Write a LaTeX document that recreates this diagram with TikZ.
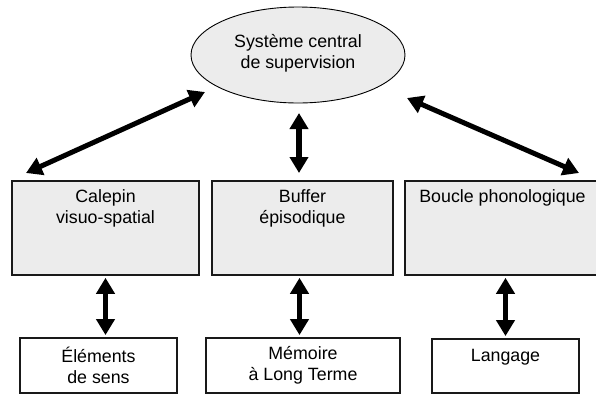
\documentclass[tikz,border=0pt]{standalone}
\usepackage{fontspec}
\setmainfont{Liberation Sans}
\usetikzlibrary{arrows.meta,shapes.geometric}
\definecolor{boxgray}{HTML}{ECECEC}
\begin{document}
\begin{tikzpicture}[x=1pt,y=-1pt,
  txt/.style={font=\fontsize{17.8}{21}\selectfont, align=center, inner sep=0pt},
  topbox/.style={draw=black!90, line width=1.6pt, fill=boxgray, inner sep=0pt, minimum height=94pt},
  lowbox/.style={draw=black!90, line width=1.8pt, fill=white, inner sep=0pt},
  dbl/.style={{Triangle[length=16pt,width=18pt]}-{Triangle[length=16pt,width=18pt]}, line width=5.5pt}
]
\useasboundingbox (0,0) rectangle (596,394);
% ellipse
\node[draw, line width=0.9pt, fill=boxgray, ellipse, minimum width=214pt, minimum height=96pt, inner sep=0pt] (sys) at (298,55) {};
\node[txt] (systxt) at (298,53) {Système central\\de supervision};
% top boxes
\node[topbox, minimum width=187pt] (cal) at (105.5,228) {};
\node[topbox, minimum width=181pt] (buf) at (302.5,228) {};
\node[topbox, minimum width=195pt] (bou) at (502.5,228) {};
\node[txt, anchor=north] (caltxt) at ([yshift=-9pt]cal.north) {Calepin\\visuo-spatial};
\node[txt, anchor=north] (buftxt) at ([yshift=-9pt]buf.north) {Buffer\\épisodique};
\node[txt, anchor=north] (boutxt) at ([yshift=-9pt]bou.north) {Boucle phonologique};
% bottom boxes
\node[lowbox, minimum width=157pt, minimum height=55pt] (ele) at (98.5,365.5) {};
\node[lowbox, minimum width=194pt, minimum height=55pt] (mem) at (303,365.5) {};
\node[lowbox, minimum width=147pt, minimum height=54pt] (lan) at (505.5,366) {};
\node[txt] (eletxt) at (ele.center) {Éléments\\de sens};
\node[txt] (memtxt) at (mem.center) {Mémoire\\à Long Terme};
\node[txt] (lantxt) at (505.5,357) {Langage};
% arrows top
\coordinate (l1) at (26,173);
\coordinate (l2) at (205,92);
\coordinate (m1) at (299,113);
\coordinate (m2) at (299,173);
\coordinate (r1) at (407,98);
\coordinate (r2) at (579,173);
\draw[dbl, line width=5pt] (l1) -- (l2);
\draw[dbl] (m1) -- (m2);
\draw[dbl, line width=5pt] (r1) -- (r2);
% arrows bottom
\draw[dbl, shorten <=2pt, shorten >=2pt] (cal.south) -- (cal.south |- ele.north);
\draw[dbl, shorten <=2pt, shorten >=2pt] ([xshift=-3pt]buf.south) -- ([xshift=-3pt]buf.south |- mem.north);
\draw[dbl, shorten <=2pt, shorten >=2pt] (lan.north |- bou.south) -- (lan.north);
\end{tikzpicture}
\end{document}
